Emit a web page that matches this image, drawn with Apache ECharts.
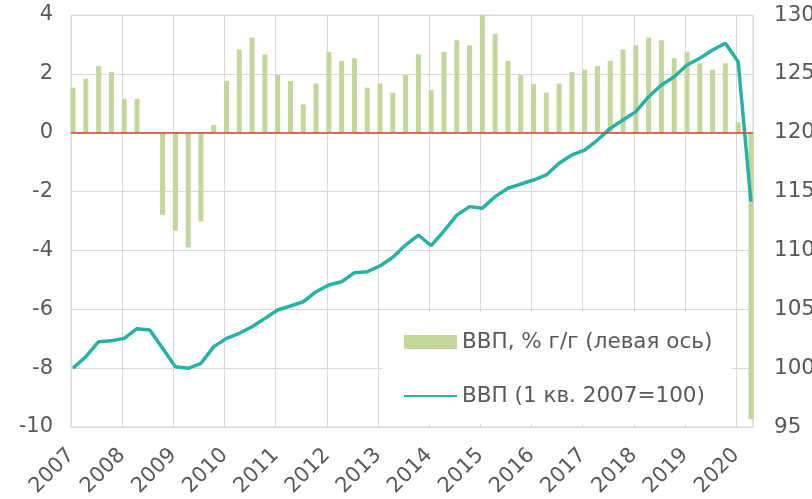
<!DOCTYPE html>
<html>
<head>
<meta charset="utf-8">
<title>ВВП</title>
<script src="https://cdn.jsdelivr.net/npm/echarts@6/dist/echarts.min.js"></script>
<style>
  html, body { margin: 0; padding: 0; background: #fff; }
  #chart { width: 812px; height: 499px; }
</style>
</head>
<body>
<div id="chart"></div>
<script>
// годы на оси X (подписи) и кварталы
var years = ['2007', '2008', '2009', '2010', '2011', '2012', '2013',
  '2014', '2015', '2016', '2017', '2018', '2019', '2020']
var quarterNames = ['1 кв.', '2 кв.', '3 кв.', '4 кв.']

// ВВП, % г/г (левая ось)
var gdpYoY = [
  1.53, 1.83, 2.27, 2.06,
  1.15, 1.15, 0.0, -2.8,
  -3.33, -3.9, -3.02, 0.26,
  1.76, 2.83, 3.23, 2.66,
  1.96, 1.76, 0.96, 1.67,
  2.75, 2.44, 2.53, 1.53,
  1.67, 1.36, 1.96, 2.66,
  1.45, 2.75, 3.14, 2.97,
  4.0, 3.36, 2.44, 1.96,
  1.65, 1.36, 1.67, 2.06,
  2.14, 2.27, 2.44, 2.83,
  2.97, 3.23, 3.14, 2.53,
  2.75, 2.36, 2.14, 2.36,
  0.36, -9.74
]

// ВВП (1 кв. 2007=100), правая ось
var gdpIndex = [
  100.0, 100.97, 102.25, 102.33,
  102.53, 103.35, 103.24, 101.68,
  100.12, 99.99, 100.41, 101.83,
  102.53, 102.96, 103.52, 104.23,
  104.94, 105.28, 105.64, 106.49,
  107.06, 107.34, 108.11, 108.19,
  108.68, 109.42, 110.46, 111.31,
  110.4, 111.65, 113.0, 113.72,
  113.58, 114.57, 115.28, 115.64,
  115.98, 116.41, 117.4, 118.11,
  118.53, 119.38, 120.37, 121.08,
  121.79, 123.06, 124.05, 124.76,
  125.75, 126.32, 127.03, 127.6,
  126.03, 114.14
]

var leftTicks = { min: -10, max: 4, interval: 2 }
var rightTicks = { min: 95, max: 130, interval: 5 }

// список периодов: "1 кв. 2007" ...
var periods = []
years.forEach(function (y) {
  quarterNames.forEach(function (q) {
    if (periods.length < gdpYoY.length) periods.push(q + ' ' + y)
  })
})

var textColor = '#595959'
var gridColor = '#d9d9d9'
var font = 'DejaVu Sans'
var shift = 0.16 // годовые линии сетки чуть левее первого квартала

var chart = echarts.init(document.getElementById('chart'))
chart.setOption({
  animation: false,
  textStyle: { fontFamily: font },
  grid: {
    left: 71,
    right: 59,
    top: 15,
    bottom: 72,
    show: true,
    borderColor: gridColor,
    borderWidth: 1,
    outerBoundsMode: 'none'
  },
  legend: {
    orient: 'vertical',
    left: 382,
    top: 312,
    backgroundColor: '#fff',
    padding: [19, 19, 17, 21],
    itemWidth: 53,
    itemHeight: 14,
    itemGap: 32,
    textStyle: { color: textColor, fontSize: 21.5, fontFamily: font },
    data: [
      { name: 'ВВП, % г/г (левая ось)', icon: 'rect' },
      { name: 'ВВП (1 кв. 2007=100)', itemStyle: { opacity: 0 } }
    ]
  },
  xAxis: {
    type: 'value',
    min: -shift,
    max: periods.length - 1 + shift,
    interval: 4,
    axisLine: { show: false },
    axisTick: { show: false },
    splitLine: { show: true, lineStyle: { color: gridColor, width: 1 } },
    axisLabel: {
      rotate: 45,
      align: 'right',
      verticalAlign: 'middle',
      margin: 25,
      fontSize: 21,
      color: textColor,
      fontFamily: font,
      showMaxLabel: false,
      formatter: function (v) {
        var k = (v + shift) / 4
        if (Math.abs(k - Math.round(k)) > 0.01) return ''
        return years[Math.round(k)] || ''
      }
    }
  },
  yAxis: [
    {
      type: 'value',
      min: leftTicks.min,
      max: leftTicks.max,
      interval: leftTicks.interval,
      axisLine: { show: false },
      axisTick: { show: false },
      splitLine: { lineStyle: { color: gridColor, width: 1 } },
      axisLabel: { margin: 18, fontSize: 21, color: textColor, fontFamily: font }
    },
    {
      type: 'value',
      min: rightTicks.min,
      max: rightTicks.max,
      interval: rightTicks.interval,
      axisLine: { show: false },
      axisTick: { show: false },
      splitLine: { show: false },
      axisLabel: { margin: 21, fontSize: 21.5, color: textColor, fontFamily: font }
    }
  ],
  series: [
    {
      name: 'ВВП, % г/г (левая ось)',
      type: 'bar',
      yAxisIndex: 0,
      barWidth: 5,
      data: gdpYoY.map(function (v, i) { return [i, v] }),
      itemStyle: { color: '#c4d79b' },
      markLine: {
        silent: true,
        symbol: 'none',
        label: { show: false },
        lineStyle: { color: '#e03c31', width: 1.5, type: 'solid' },
        data: [{ yAxis: 0 }]
      }
    },
    {
      name: 'ВВП (1 кв. 2007=100)',
      type: 'line',
      yAxisIndex: 1,
      symbol: 'none',
      data: gdpIndex.map(function (v, i) { return [i, v] }),
      itemStyle: { color: '#26b3a5' },
      lineStyle: { color: '#26b3a5', width: 3.5 },
      z: 3
    }
  ]
})
</script>
</body>
</html>
